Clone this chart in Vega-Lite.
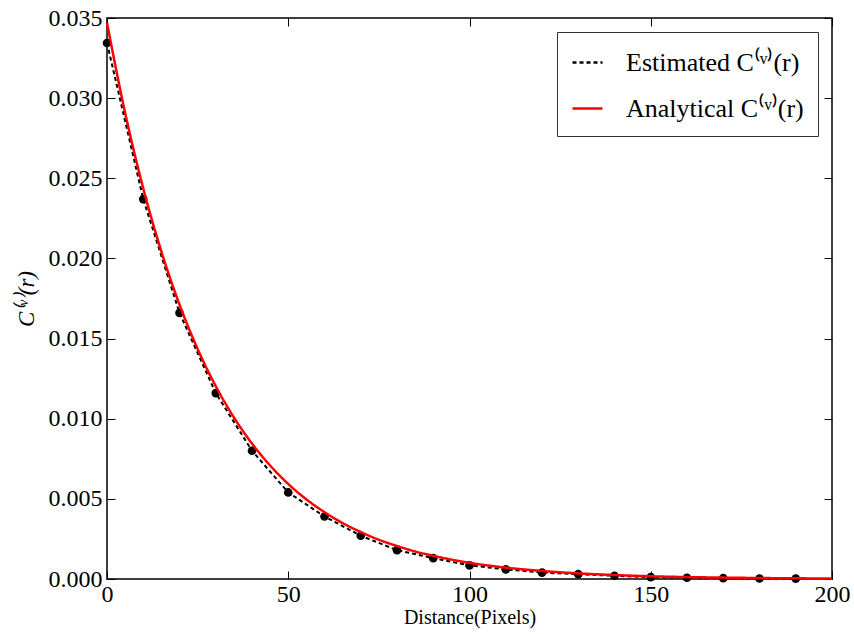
{
  "$schema": "https://vega.github.io/schema/vega-lite/v6.json",
  "width": 725,
  "height": 561,
  "autosize": "none",
  "padding": {"left": 107, "top": 18, "right": 22, "bottom": 55},
  "config": {
    "view": {"stroke": "black", "strokeWidth": 1.5},
    "font": "Liberation Serif",
    "axis": {
      "grid": false,
      "domain": false,
      "tickColor": "black",
      "tickSize": -8,
      "tickWidth": 1,
      "labelColor": "black",
      "titleColor": "black",
      "titleFontWeight": "normal"
    }
  },
  "resolve": {"axis": {"x": "independent", "y": "independent"}},
  "datasets": {
    "est": [
      {"r": 0, "c": 0.03344, "s": "Estimated C⁽ᵛ⁾(r)"},
      {"r": 10, "c": 0.0237, "s": "Estimated C⁽ᵛ⁾(r)"},
      {"r": 20, "c": 0.0166, "s": "Estimated C⁽ᵛ⁾(r)"},
      {"r": 30, "c": 0.0116, "s": "Estimated C⁽ᵛ⁾(r)"},
      {"r": 40, "c": 0.0080, "s": "Estimated C⁽ᵛ⁾(r)"},
      {"r": 50, "c": 0.0054, "s": "Estimated C⁽ᵛ⁾(r)"},
      {"r": 60, "c": 0.0039, "s": "Estimated C⁽ᵛ⁾(r)"},
      {"r": 70, "c": 0.0027, "s": "Estimated C⁽ᵛ⁾(r)"},
      {"r": 80, "c": 0.0018, "s": "Estimated C⁽ᵛ⁾(r)"},
      {"r": 90, "c": 0.0013, "s": "Estimated C⁽ᵛ⁾(r)"},
      {"r": 100, "c": 0.00085, "s": "Estimated C⁽ᵛ⁾(r)"},
      {"r": 110, "c": 0.0006, "s": "Estimated C⁽ᵛ⁾(r)"},
      {"r": 120, "c": 0.0004, "s": "Estimated C⁽ᵛ⁾(r)"},
      {"r": 130, "c": 0.0003, "s": "Estimated C⁽ᵛ⁾(r)"},
      {"r": 140, "c": 0.0002, "s": "Estimated C⁽ᵛ⁾(r)"},
      {"r": 150, "c": 0.00012, "s": "Estimated C⁽ᵛ⁾(r)"},
      {"r": 160, "c": 0.00008, "s": "Estimated C⁽ᵛ⁾(r)"},
      {"r": 170, "c": 0.00005, "s": "Estimated C⁽ᵛ⁾(r)"},
      {"r": 180, "c": 0.00003, "s": "Estimated C⁽ᵛ⁾(r)"},
      {"r": 190, "c": 0.00002, "s": "Estimated C⁽ᵛ⁾(r)"}
    ],
    "ana": [
      {"r": 0, "c": 0.0347, "s": "Analytical C⁽ᵛ⁾(r)"},
      {"r": 5, "c": 0.02908, "s": "Analytical C⁽ᵛ⁾(r)"},
      {"r": 10, "c": 0.02437, "s": "Analytical C⁽ᵛ⁾(r)"},
      {"r": 15, "c": 0.02043, "s": "Analytical C⁽ᵛ⁾(r)"},
      {"r": 20, "c": 0.01712, "s": "Analytical C⁽ᵛ⁾(r)"},
      {"r": 25, "c": 0.01435, "s": "Analytical C⁽ᵛ⁾(r)"},
      {"r": 30, "c": 0.01203, "s": "Analytical C⁽ᵛ⁾(r)"},
      {"r": 35, "c": 0.01008, "s": "Analytical C⁽ᵛ⁾(r)"},
      {"r": 40, "c": 0.00845, "s": "Analytical C⁽ᵛ⁾(r)"},
      {"r": 45, "c": 0.00708, "s": "Analytical C⁽ᵛ⁾(r)"},
      {"r": 50, "c": 0.00593, "s": "Analytical C⁽ᵛ⁾(r)"},
      {"r": 55, "c": 0.00497, "s": "Analytical C⁽ᵛ⁾(r)"},
      {"r": 60, "c": 0.00417, "s": "Analytical C⁽ᵛ⁾(r)"},
      {"r": 65, "c": 0.00349, "s": "Analytical C⁽ᵛ⁾(r)"},
      {"r": 70, "c": 0.00293, "s": "Analytical C⁽ᵛ⁾(r)"},
      {"r": 75, "c": 0.00245, "s": "Analytical C⁽ᵛ⁾(r)"},
      {"r": 80, "c": 0.00206, "s": "Analytical C⁽ᵛ⁾(r)"},
      {"r": 85, "c": 0.00172, "s": "Analytical C⁽ᵛ⁾(r)"},
      {"r": 90, "c": 0.00145, "s": "Analytical C⁽ᵛ⁾(r)"},
      {"r": 95, "c": 0.00121, "s": "Analytical C⁽ᵛ⁾(r)"},
      {"r": 100, "c": 0.00101, "s": "Analytical C⁽ᵛ⁾(r)"},
      {"r": 110, "c": 0.00071, "s": "Analytical C⁽ᵛ⁾(r)"},
      {"r": 120, "c": 0.0005, "s": "Analytical C⁽ᵛ⁾(r)"},
      {"r": 130, "c": 0.00035, "s": "Analytical C⁽ᵛ⁾(r)"},
      {"r": 140, "c": 0.00025, "s": "Analytical C⁽ᵛ⁾(r)"},
      {"r": 150, "c": 0.00017, "s": "Analytical C⁽ᵛ⁾(r)"},
      {"r": 160, "c": 0.00012, "s": "Analytical C⁽ᵛ⁾(r)"},
      {"r": 170, "c": 0.000087, "s": "Analytical C⁽ᵛ⁾(r)"},
      {"r": 180, "c": 0.000061, "s": "Analytical C⁽ᵛ⁾(r)"},
      {"r": 190, "c": 0.000043, "s": "Analytical C⁽ᵛ⁾(r)"},
      {"r": 200, "c": 0.00003, "s": "Analytical C⁽ᵛ⁾(r)"}
    ]
  },
  "layer": [
    {
      "data": {"name": "ana"},
      "mark": {"type": "line", "strokeOpacity": 0},
      "encoding": {
        "x": {"field": "r", "type": "quantitative", "scale": {"domain": [0, 200], "nice": false},
              "axis": {"orient": "top", "values": [0, 50, 100, 150, 200], "labels": false, "title": null}},
        "y": {"field": "c", "type": "quantitative", "scale": {"domain": [0, 0.035], "nice": false, "zero": true},
              "axis": {"orient": "right", "values": [0, 0.005, 0.01, 0.015, 0.02, 0.025, 0.03, 0.035], "labels": false, "title": null}}
      }
    },
    {
      "data": {"name": "est"},
      "mark": {"type": "line", "strokeDash": [4, 3], "strokeWidth": 2},
      "encoding": {
        "x": {"field": "r", "type": "quantitative", "scale": {"domain": [0, 200], "nice": false},
              "axis": {"orient": "bottom", "values": [0, 50, 100, 150, 200], "labelPadding": 11, "labelFont": "Liberation Serif", "labelFontSize": 24,
                       "encode": {"labels": {"update": {"font": {"value": "Liberation Serif"}, "fontSize": {"value": 24}}}},
                       "title": "Distance(Pixels)", "titleFont": "Liberation Serif", "titleFontSize": 20, "titlePadding": 1, "labelFlush": false}},
        "y": {"field": "c", "type": "quantitative", "scale": {"domain": [0, 0.035], "nice": false, "zero": true},
              "axis": {"orient": "left", "values": [0, 0.005, 0.01, 0.015, 0.02, 0.025, 0.03, 0.035], "format": ".3f", "labelPadding": 13, "labelFont": "Liberation Serif", "labelFontSize": 24,
                       "encode": {"labels": {"update": {"font": {"value": "Liberation Serif"}, "fontSize": {"value": 24}}}},
                       "title": "C⁽ᵛ⁾(r)", "titleFont": "Liberation Serif", "titleFontSize": 23, "titleFontStyle": "italic", "titlePadding": 10}},
        "color": {"field": "s", "type": "nominal",
                  "scale": {"domain": ["Estimated C⁽ᵛ⁾(r)", "Analytical C⁽ᵛ⁾(r)"], "range": ["black", "red"]},
                  "legend": {"title": null, "orient": "top-right", "offset": 14, "labelFontSize": 26, "labelFont": "Liberation Serif", "labelColor": "black", "symbolType": "stroke", "symbolSize": 900, "symbolStrokeWidth": 2.5, "strokeColor": "#333", "padding": 14, "rowPadding": 16, "labelOffset": 22, "fillColor": "white", "labelLimit": 400}},
        "strokeDash": {"field": "s", "type": "nominal",
                  "scale": {"domain": ["Estimated C⁽ᵛ⁾(r)", "Analytical C⁽ᵛ⁾(r)"], "range": [[4, 3], [1, 0]]},
                  "legend": null}
      }
    },
    {
      "data": {"name": "est"},
      "mark": {"type": "point", "filled": true, "size": 75, "color": "black", "opacity": 1},
      "encoding": {
        "x": {"field": "r", "type": "quantitative", "axis": null},
        "y": {"field": "c", "type": "quantitative", "axis": null}
      }
    },
    {
      "data": {"name": "ana"},
      "mark": {"type": "line", "strokeWidth": 2.5, "interpolate": "monotone"},
      "encoding": {
        "x": {"field": "r", "type": "quantitative", "axis": null},
        "y": {"field": "c", "type": "quantitative", "axis": null},
        "color": {"field": "s", "type": "nominal"},
        "strokeDash": {"field": "s", "type": "nominal"}
      }
    }
  ]
}
